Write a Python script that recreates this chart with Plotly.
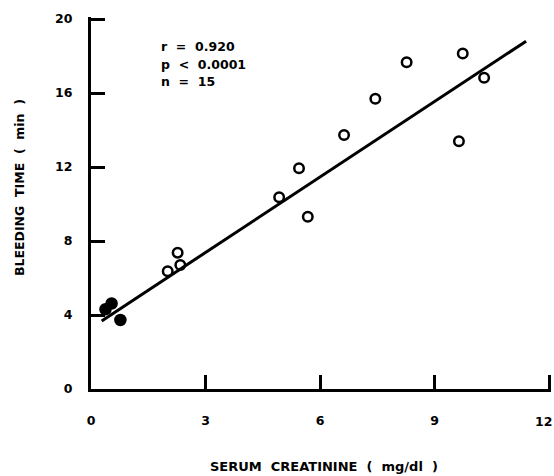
import plotly.graph_objects as go

# Data
open_x = [2.01, 2.27, 2.34, 4.93, 5.45, 5.68, 6.63, 7.45, 8.27, 9.64, 9.74, 10.3]
open_y = [6.36, 7.37, 6.70, 10.36, 11.93, 9.31, 13.73, 15.69, 17.66, 13.39, 18.14, 16.83]
filled_x = [0.38, 0.54, 0.77]
filled_y = [4.31, 4.62, 3.73]
fit_x = [0.28, 11.4]
fit_y = [3.68, 18.8]
x_ticks = [0, 3, 6, 9, 12]
y_ticks = [0, 4, 8, 12, 16, 20]
stats_text = ["r  =  0.920", "p  <  0.0001", "n  =  15"]

FONT = "DejaVu Sans"

# plot area in pixels (a little beyond the last ticks so they are drawn fully)
L, R, T, B = 91, 551, 17, 389
W, H = 554, 476
X_MAX = 12 * (R - L) / (549 - L)
Y_MAX = 20 * (B - T) / (B - 19)


def px(xp):
    return (xp - L) / (R - L)


def py(yp):
    return (B - yp) / (B - T)


fig = go.Figure()
fig.add_trace(go.Scatter(x=fit_x, y=fit_y, mode="lines",
                         line=dict(color="black", width=3), showlegend=False))
fig.add_trace(go.Scatter(x=open_x, y=open_y, mode="markers",
                         marker=dict(symbol="circle-open", size=9.5, color="black",
                                     line=dict(width=2.5, color="black")),
                         showlegend=False))
fig.add_trace(go.Scatter(x=filled_x, y=filled_y, mode="markers",
                         marker=dict(symbol="circle", size=12.5, color="black"),
                         showlegend=False))

for i, t in enumerate(stats_text):
    fig.add_annotation(text="<b>%s</b>" % t, xref="paper", yref="paper",
                       x=px(159), y=py(46 + 18 * i), xanchor="left", yanchor="middle",
                       align="left", showarrow=False,
                       font=dict(family=FONT, size=12.5, color="black"))

fig.add_annotation(text="<b>SERUM  CREATININE  (  mg/dl  )</b>",
                   xref="paper", yref="paper", x=px(324), y=py(466),
                   xanchor="center", yanchor="middle", showarrow=False,
                   font=dict(family=FONT, size=13, color="black"))
fig.add_annotation(text="<b>BLEEDING  TIME  (  min  )</b>",
                   xref="paper", yref="paper", x=px(19), y=py(188),
                   xanchor="center", yanchor="middle", showarrow=False, textangle=-90,
                   font=dict(family=FONT, size=12.5, color="black"))

# last x tick label sits flush with the right edge, as in the reference
last_x = x_ticks[-1]
fig.add_annotation(text="<b>%d</b>" % last_x, xref="x", yref="paper",
                   x=last_x, y=py(421), xanchor="right", xshift=5, yanchor="middle",
                   showarrow=False, font=dict(family=FONT, size=12.5, color="black"))

fig.update_layout(
    width=W, height=H,
    margin=dict(l=L, r=W - R, t=T, b=H - B, autoexpand=False),
    plot_bgcolor="white", paper_bgcolor="white",
    font=dict(family=FONT, size=12, color="black"),
)
fig.update_xaxes(range=[0, X_MAX], tickvals=x_ticks,
                 ticktext=["<b>%d</b>" % v for v in x_ticks[:-1]] + [""],
                 showgrid=False, zeroline=False, showline=True, linecolor="black", linewidth=3,
                 ticks="inside", ticklen=14, tickwidth=2.5, tickcolor="black",
                 ticklabeloverflow="allow", ticklabelstandoff=18,
                 tickfont=dict(family=FONT, size=12.5))
fig.update_yaxes(range=[0, Y_MAX], tickvals=y_ticks, ticktext=["<b>%d</b>" % v for v in y_ticks],
                 showgrid=False, zeroline=False, showline=True, linecolor="black", linewidth=3,
                 ticks="inside", ticklen=14, tickwidth=2.5, tickcolor="black",
                 ticklabeloverflow="allow", ticklabelstandoff=13,
                 tickfont=dict(family=FONT, size=12.5))

fig.write_html("out.html", config={"displayModeBar": False},
               post_script="document.body.style.margin='0';document.body.style.overflow='hidden';")
